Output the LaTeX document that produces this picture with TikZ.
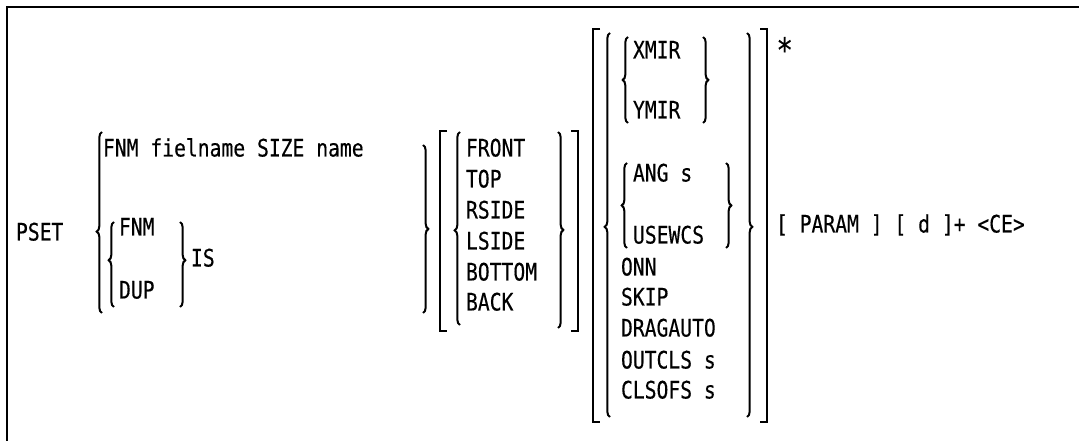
\documentclass[tikz,border=0pt]{standalone}
\usepackage{fontspec}
\newfontfamily\synfont{DejaVu Sans Mono}[FakeStretch=0.82,FakeBold=0.35]
\usetikzlibrary{decorations.pathreplacing,positioning}

\tikzset{
  kw/.style={inner sep=0pt, anchor=base west, font=\synfont\fontsize{18}{21}\selectfont},
  curly/.style={decorate, decoration={brace, amplitude=4pt, aspect=#1}},
  curly/.default=0.5,
}

\begin{document}
\begin{tikzpicture}[x=0.75pt, y=-0.75pt, line width=1.5pt]
  \useasboundingbox (0,0) rectangle (1079,441);
  % frame
  \draw (1079,7) -- (7,7) -- (7,441);

  % command and first choice
  \node (pset)    [kw] at (15,240.5)  {PSET};
  \node (fnmsize) [kw] at (102,156.5) {FNM fielname SIZE name};
  \node (fnm)     [kw] at (118,235.5) {FNM};
  \node (dup)     [kw] at (118,298.5) {DUP};
  \node (is)      [kw] at (190,266.5) {IS};
  \draw[curly=0.45] (102,313) -- (102,132);
  \draw[curly=0.55] (114,307) -- (114,222);
  \draw[curly=0.45] (180,222) -- (180,307);
  \draw[curly=0.5]  (423,145) -- (423,313);

  % view
  \node (front)  [kw] at (465,156.5) {FRONT};
  \node (top)    [kw] at (465,187.5) {TOP};
  \node (rside)  [kw] at (465,218.5) {RSIDE};
  \node (lside)  [kw] at (465,249.5) {LSIDE};
  \node (bottom) [kw] at (465,280.5) {BOTTOM};
  \node (back)   [kw] at (465,310.5) {BACK};
  \draw (447,131) -- (440,131) -- (440,331) -- (447,331);
  \draw[curly=0.49] (460,325) -- (460,132);
  \draw[curly=0.5]  (558,132) -- (558,328);
  \draw (571,131) -- (578,131) -- (578,331) -- (571,331);

  % options
  \node (xmir)   [kw] at (632,58.5)  {XMIR};
  \node (ymir)   [kw] at (632,118.5) {YMIR};
  \node (ang)    [kw] at (632,181.5) {ANG s};
  \node (usewcs) [kw] at (632,243.5) {USEWCS};
  \node (onn)    [kw] at (620,275.5) {ONN};
  \node (skip)   [kw] at (620,305.5) {SKIP};
  \node (drag)   [kw] at (620,336.5) {DRAGAUTO};
  \node (outcls) [kw] at (620,368.5) {OUTCLS s};
  \node (clsofs) [kw] at (620,398.5) {CLSOFS s};
  \draw (600,29) -- (593,29) -- (593,422) -- (600,422);
  \draw[curly=0.495] (610,417) -- (610,33);
  \draw[curly=0.5] (628,123) -- (628,37);
  \draw[curly=0.5] (703,37) -- (703,123);
  \draw[curly=0.5] (627,248) -- (627,163);
  \draw[curly=0.5] (726,163) -- (726,248);
  \draw[curly=0.505] (747,33) -- (747,417);
  \draw (760,29) -- (767,29) -- (767,422) -- (760,422);
  \node (star)  [kw, scale=1.4] at (775,62) {*};
  \node (param) [kw] at (775,232.5) {[ PARAM ] [ d ]+ <CE>};
\end{tikzpicture}
\end{document}
